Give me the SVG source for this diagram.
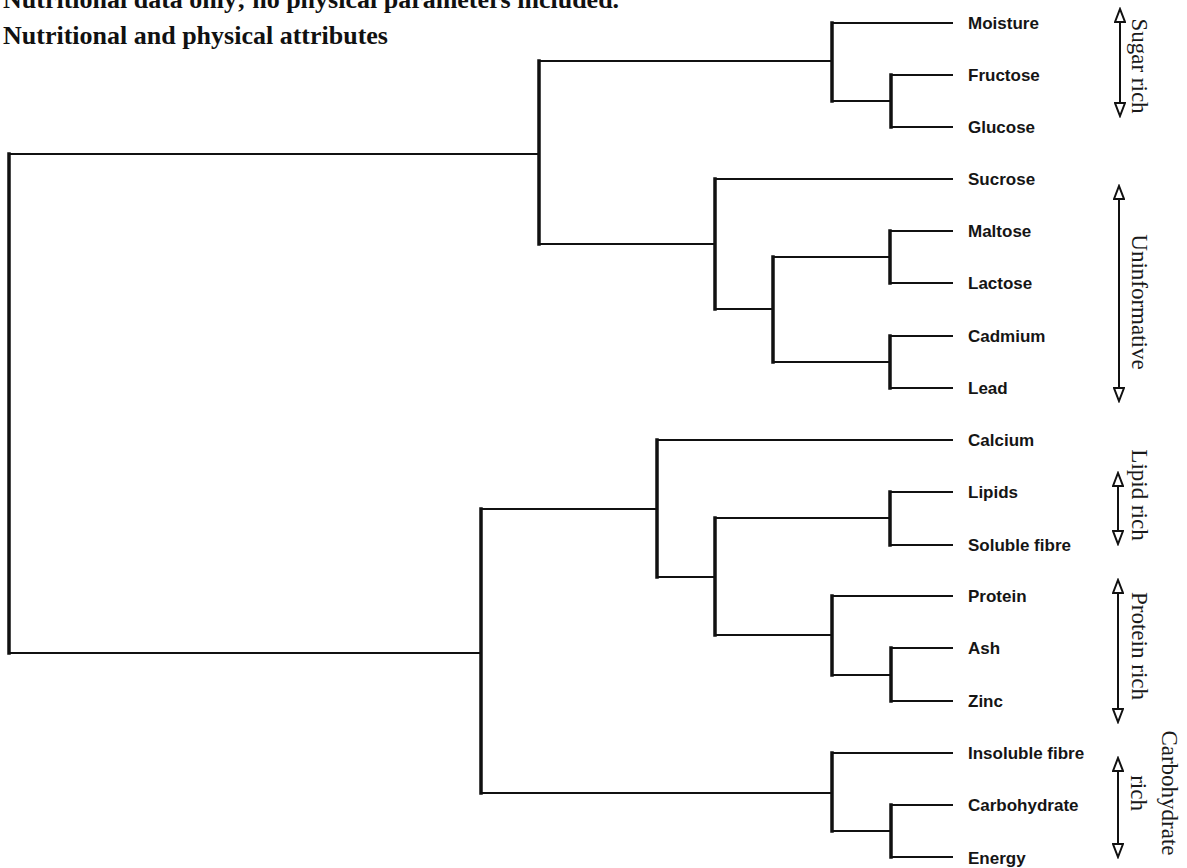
<svg xmlns="http://www.w3.org/2000/svg" width="1187" height="868" viewBox="0 0 1187 868">
<style>
.h{stroke:#111;stroke-width:2;fill:none;stroke-linecap:square}
.v{stroke:#111;stroke-width:3.5;fill:none;stroke-linecap:square}
.lbl{font-family:"Liberation Sans",Arial,sans-serif;font-weight:bold;font-size:17px;fill:#151515}
.ttl{font-family:"Liberation Serif","Times New Roman",serif;font-weight:bold;font-size:26px;fill:#111}
.ann{font-family:"Liberation Serif","Times New Roman",serif;font-size:23px;fill:#1a1a1a}
.arr{stroke:#111;stroke-width:2;fill:none;marker-start:url(#tri);marker-end:url(#tri)}
</style>
<defs>
<marker id="tri" viewBox="0 0 16 12" refX="14" refY="6" markerWidth="16" markerHeight="12" markerUnits="userSpaceOnUse" orient="auto-start-reverse">
<path d="M1,1 L14,6 L1,11 Z" fill="#fff" stroke="#111" stroke-width="2" stroke-linejoin="miter"/>
</marker>
</defs>
<rect width="1187" height="868" fill="#fff"/>
<g id="titles">
<text class="ttl" x="3" y="8">Nutritional data only; no physical parameters included.</text>
<text class="ttl" x="3" y="44">Nutritional and physical attributes</text>
</g>
<g id="connectors">
<path class="h" d="M832,23H952 M891,75H952 M891,127H952 M715,179H952 M890,231H952 M890,283H952 M890,336H952 M890,388H952 M657,440H952 M890,492H952 M890,545H952 M832,596H952 M891,648H952 M891,701H952 M832,753H952 M891,805H952 M891,857H952"/>
<path class="h" d="M832,101H891 M539,61H832 M773,257H890 M773,362H890 M715,309H773 M539,244H715 M9,154H539 M715,518H890 M832,675H891 M715,635H832 M657,577H715 M481,509H657 M832,831H891 M481,793H832 M9,653H481"/>
<path class="v" d="M891,75V127 M832,23V101 M890,231V283 M890,336V388 M773,257V362 M715,179V309 M539,61V244 M890,492V545 M891,648V701 M832,596V675 M715,518V635 M657,440V577 M891,805V857 M832,753V831 M481,509V793 M9,154V653"/>
</g>
<g id="leaves">
<g id="n-moisture"><text class="lbl" x="968" y="29">Moisture</text></g>
<g id="n-fructose"><text class="lbl" x="968" y="81">Fructose</text></g>
<g id="n-glucose"><text class="lbl" x="968" y="133">Glucose</text></g>
<g id="n-sucrose"><text class="lbl" x="968" y="185">Sucrose</text></g>
<g id="n-maltose"><text class="lbl" x="968" y="237">Maltose</text></g>
<g id="n-lactose"><text class="lbl" x="968" y="289">Lactose</text></g>
<g id="n-cadmium"><text class="lbl" x="968" y="342">Cadmium</text></g>
<g id="n-lead"><text class="lbl" x="968" y="394">Lead</text></g>
<g id="n-calcium"><text class="lbl" x="968" y="446">Calcium</text></g>
<g id="n-lipids"><text class="lbl" x="968" y="498">Lipids</text></g>
<g id="n-soluble"><text class="lbl" x="968" y="551">Soluble fibre</text></g>
<g id="n-protein"><text class="lbl" x="968" y="602">Protein</text></g>
<g id="n-ash"><text class="lbl" x="968" y="654">Ash</text></g>
<g id="n-zinc"><text class="lbl" x="968" y="707">Zinc</text></g>
<g id="n-insoluble"><text class="lbl" x="968" y="759">Insoluble fibre</text></g>
<g id="n-carbohydrate"><text class="lbl" x="968" y="811">Carbohydrate</text></g>
<g id="n-energy"><text class="lbl" x="968" y="864">Energy</text></g>
</g>
<g id="groups">
<g id="g-sugar">
<path class="arr" d="M1120,9V116"/>
<text class="ann" text-anchor="middle" transform="translate(1132,66) rotate(90)">Sugar rich</text>
</g>
<g id="g-uninformative">
<path class="arr" d="M1119,186V401"/>
<text class="ann" text-anchor="middle" transform="translate(1132,302) rotate(90)">Uninformative</text>
</g>
<g id="g-lipid">
<path class="arr" d="M1118,473V544"/>
<text class="ann" text-anchor="middle" transform="translate(1132,495) rotate(90)">Lipid rich</text>
</g>
<g id="g-protein">
<path class="arr" d="M1118,580V722"/>
<text class="ann" text-anchor="middle" transform="translate(1132,646) rotate(90)">Protein rich</text>
</g>
<g id="g-carbohydrate">
<path class="arr" d="M1118,758V857"/>
<text class="ann" text-anchor="middle" transform="translate(1162,793) rotate(90)">Carbohydrate</text>
<text class="ann" text-anchor="middle" transform="translate(1131,793) rotate(90)">rich</text>
</g>
</g>
</svg>
